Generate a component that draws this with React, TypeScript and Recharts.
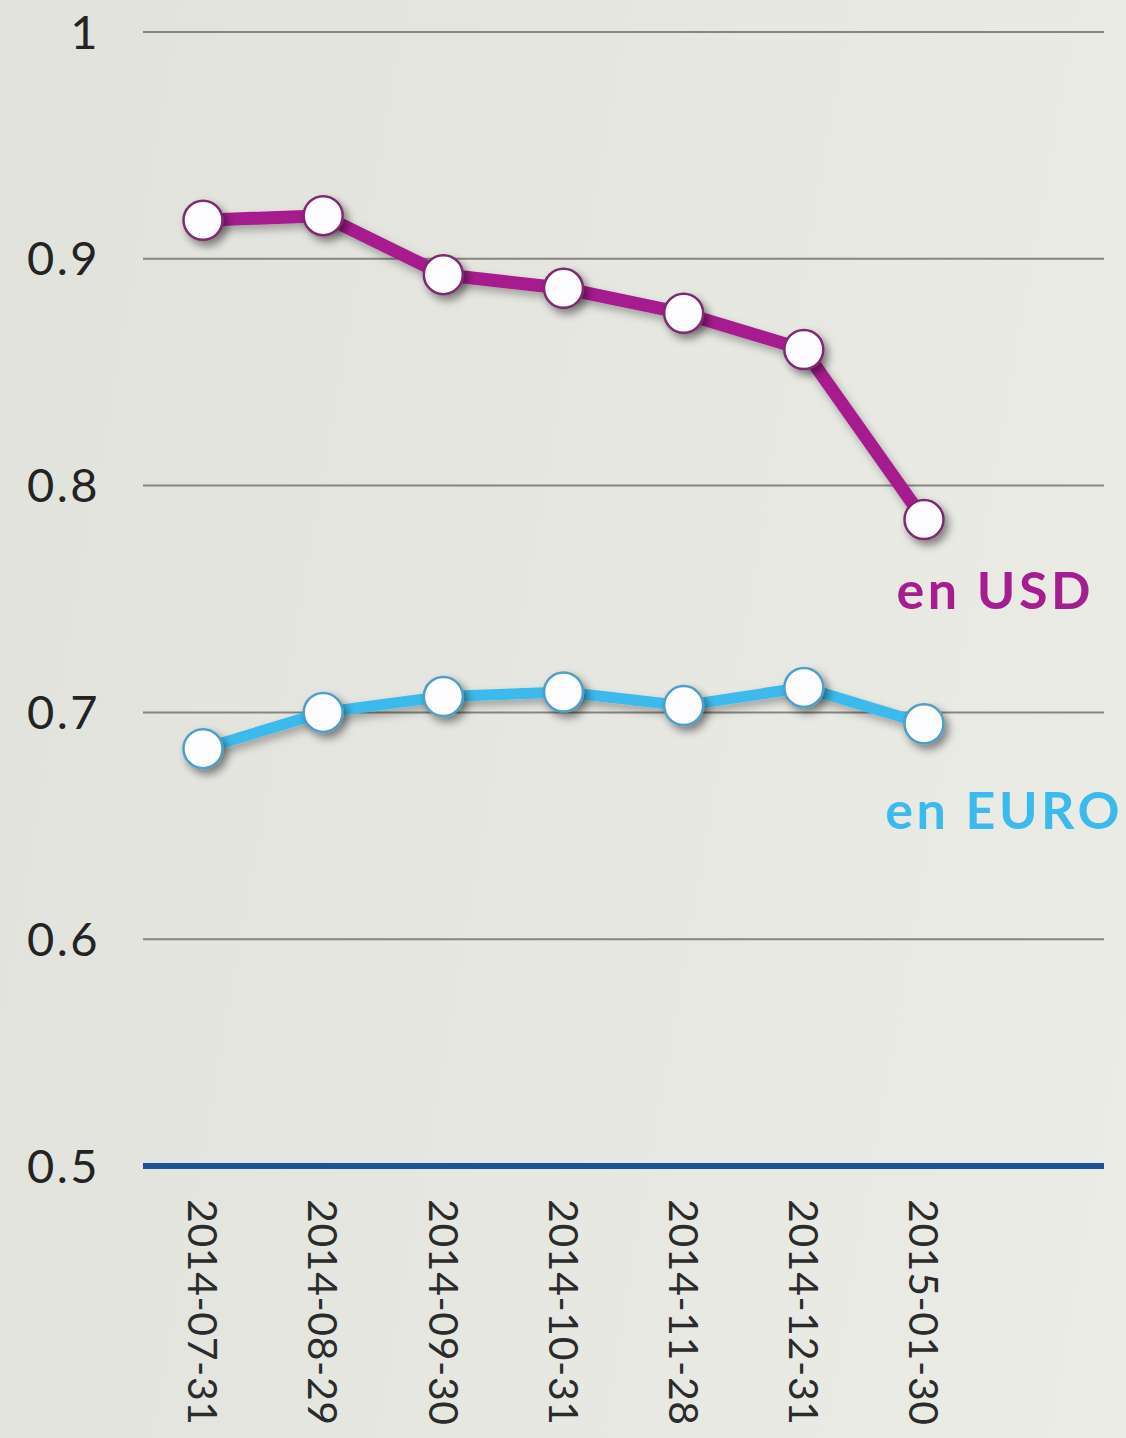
import { LineChart, Line, XAxis, YAxis, CartesianGrid, LabelList } from 'recharts';

const dates = ['2014-07-31', '2014-08-29', '2014-09-30', '2014-10-31', '2014-11-28', '2014-12-31', '2015-01-30'];
const usd = [0.917, 0.919, 0.893, 0.887, 0.876, 0.86, 0.785];
const euro = [0.684, 0.7, 0.707, 0.709, 0.703, 0.711, 0.695];
const yTicks = [0.5, 0.6, 0.7, 0.8, 0.9, 1];

const USD_COLOR = '#a61d8f';
const EURO_COLOR = '#3dbaec';
const FONT = 'Lato, "Open Sans", sans-serif';

const data = dates.map((d, i) => ({ date: d, usd: usd[i], euro: euro[i] }));

function DateTick(props: any) {
  const { x, y, payload } = props;
  return (
    <g transform={`translate(${x},${y})`}>
      <text
        transform="rotate(90)"
        x={25}
        y={0}
        dy="0.36em"
        textAnchor="start"
        fill="#2b2b2b"
        fontSize={41}
        letterSpacing={0.6}
        fontFamily={FONT}
      >
        {payload.value}
      </text>
    </g>
  );
}

function makeDot(stroke: string) {
  return (props: any) => {
    const { cx, cy, index } = props;
    return (
      <circle
        key={index}
        cx={cx}
        cy={cy}
        r={19.5}
        fill="#fdfcff"
        stroke={stroke}
        strokeWidth={2.5}
        filter="url(#shadow)"
      />
    );
  };
}

function makeEndLabel(text: string, color: string, dx: number, dy: number) {
  return (props: any) => {
    const { x, y, index } = props;
    if (index !== dates.length - 1) return null;
    return (
      <text
        x={x + dx}
        y={y + dy}
        textAnchor="end"
        fill={color}
        fontSize={52}
        fontWeight={700}
        fontFamily={FONT}
        letterSpacing={3.5}
      >
        {text}
      </text>
    );
  };
}

export default function App() {
  return (
    <div
      style={{
        position: 'absolute',
        top: 0,
        left: 0,
        width: 1126,
        height: 1438,
        background: 'linear-gradient(100deg, #e1e2dc 0%, #e6e7e1 50%, #ecece7 100%)',
      }}
    >
      <LineChart width={1126} height={1438} data={data} margin={{ top: 32, right: 22, left: 0, bottom: 0 }}>
        <defs>
          <filter id="shadow" x="-50%" y="-50%" width="200%" height="200%">
            <feDropShadow dx={4} dy={5} stdDeviation={4} floodColor="#000" floodOpacity={0.45} />
          </filter>
          <filter id="lineShadow" x="-10%" y="-50%" width="120%" height="200%">
            <feDropShadow dx={3} dy={5} stdDeviation={4} floodColor="#000" floodOpacity={0.3} />
          </filter>
        </defs>
        <CartesianGrid vertical={false} stroke="#858583" strokeWidth={2} />
        <XAxis
          dataKey="date"
          height={272}
          padding={{ left: 60, right: 180 }}
          tickLine={false}
          axisLine={{ stroke: '#1f5197', strokeWidth: 6 }}
          tick={<DateTick />}
          interval={0}
        />
        <YAxis
          domain={[0.5, 1]}
          ticks={yTicks}
          width={143}
          tickLine={false}
          axisLine={false}
          tickSize={0}
          tickMargin={43}
          tick={{ fill: '#232323', fontSize: 47, fontFamily: FONT, letterSpacing: 2.5 }}
        />
        <Line
          dataKey="euro"
          stroke={EURO_COLOR}
          strokeWidth={11}
          isAnimationActive={false}
          dot={makeDot('#4f9dc9')}
          filter="url(#lineShadow)"
        >
          <LabelList dataKey="euro" content={makeEndLabel('en EURO', EURO_COLOR, 199, 105)} />
        </Line>
        <Line
          dataKey="usd"
          stroke={USD_COLOR}
          strokeWidth={13}
          isAnimationActive={false}
          dot={makeDot('#7d2b70')}
          filter="url(#lineShadow)"
        >
          <LabelList dataKey="usd" content={makeEndLabel('en USD', USD_COLOR, 170, 89)} />
        </Line>
      </LineChart>
    </div>
  );
}
